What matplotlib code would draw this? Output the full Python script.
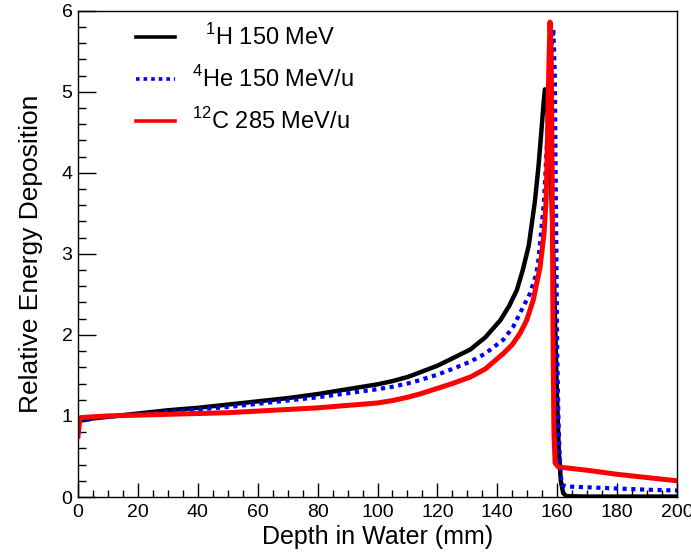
import numpy as np
import matplotlib
matplotlib.use("Agg")
import matplotlib.pyplot as plt
from matplotlib.ticker import MultipleLocator

plt.rcParams['font.family'] = ['Liberation Sans', 'DejaVu Sans']
plt.rcParams['mathtext.fontset'] = 'custom'
plt.rcParams['mathtext.rm'] = 'Liberation Sans'

# depth (mm) / relative dose
x_h = [0, 0.5, 5, 10, 20, 30, 40, 50, 60, 70, 80, 90, 100, 105, 110, 114, 120, 125, 131,
       136, 141, 144, 146.5, 148.5, 150.5, 152.6, 153.8, 154.8, 155.5, 155.9,
       156.3, 157, 158, 159, 159.8, 160.5, 161.2, 162, 163, 170, 180, 190, 200]
y_h = [0.92, 0.94, 0.97, 0.99, 1.03, 1.07, 1.10, 1.14, 1.18, 1.22, 1.27, 1.33, 1.39,
       1.43, 1.48, 1.535, 1.62, 1.71, 1.82, 1.97, 2.18, 2.36, 2.55, 2.80, 3.10, 3.66, 4.10,
       4.55, 4.88, 5.03, 5.00, 4.60, 3.80, 2.60, 1.40, 0.60, 0.20, 0.05, 0.01,
       0.005, 0.005, 0.005, 0.005]

x_he = [0, 0.5, 5, 10, 20, 30, 40, 50, 60, 70, 80, 90, 100, 105, 110, 114, 120, 125, 131,
        136, 142, 145.3, 148, 150.9, 153, 153.7, 154.8, 155.6, 156.5, 157.3,
        158, 158.7, 159.2, 159.6, 160, 160.4, 160.9, 161.5, 163, 170, 180, 190, 200]
y_he = [0.90, 0.93, 0.97, 0.99, 1.02, 1.05, 1.08, 1.11, 1.15, 1.19, 1.23, 1.28, 1.33,
        1.36, 1.40, 1.44, 1.51, 1.58, 1.67, 1.77, 1.94, 2.10, 2.30, 2.51, 2.75, 2.92, 3.33,
        3.66, 4.30, 5.00, 5.50, 5.78, 5.20, 3.50, 1.80, 1.00, 0.40, 0.15, 0.13, 0.12,
        0.105, 0.09, 0.08]

x_c = [0, 0.3, 0.6, 1, 5, 10, 20, 30, 40, 50, 60, 70, 80, 90, 100, 105, 110, 114, 120, 125,
       131, 136, 142, 145, 147.6, 149.8, 152, 154.3, 155.6, 156.3, 156.8, 157.2,
       157.6, 158, 158.3, 158.6, 158.9, 159.3, 160.4, 170, 180, 190, 200]
y_c = [0.75, 0.85, 0.96, 0.98, 0.99, 1.00, 1.01, 1.02, 1.03, 1.04, 1.06, 1.08, 1.10,
       1.13, 1.16, 1.19, 1.23, 1.27, 1.34, 1.40, 1.48, 1.58, 1.77, 1.88, 2.02, 2.18, 2.43,
       2.84, 3.25, 3.66, 4.50, 5.30, 5.86, 5.50, 4.00, 2.00, 0.80, 0.42, 0.37, 0.33,
       0.28, 0.24, 0.20]

labels = [r'  $^{1}$H 150 MeV', r'$^{4}$He 150 MeV/u', r'$^{12}$C 285 MeV/u']

fig = plt.figure(figsize=(6.91, 5.59), dpi=100)
ax = fig.add_axes([78 / 691, 62 / 559, 599 / 691, 486.3 / 559])

ax.plot(x_h, y_h, color='black', lw=3.2, label=labels[0])
ax.plot(x_he, y_he, color='#0000ff', lw=3.0, ls=(0, (1, 1.1)),
        dash_capstyle='butt', label=labels[1])
ax.plot(x_c, y_c, color='#ff0000', lw=3.6, label=labels[2])

ax.set_xlim(0, 200)
ax.set_ylim(0, 6)
ax.xaxis.set_major_locator(MultipleLocator(20))
ax.xaxis.set_minor_locator(MultipleLocator(5))
ax.yaxis.set_major_locator(MultipleLocator(1))
ax.yaxis.set_minor_locator(MultipleLocator(0.2))
ax.tick_params(axis='x', which='major', direction='in', length=10, width=1, labelsize=14, pad=5)
ax.tick_params(axis='x', which='minor', direction='in', length=5, width=1)
ax.tick_params(axis='y', which='major', direction='in', length=13, width=1, labelsize=14, pad=4)
ax.tick_params(axis='y', which='minor', direction='in', length=6, width=1)
for s in ax.spines.values():
    s.set_linewidth(1.0)

ax.set_xlabel('Depth in Water (mm)', fontsize=18, labelpad=3)
ax.set_ylabel('Relative Energy Deposition', fontsize=19, labelpad=13)

leg = ax.legend(loc='upper left', bbox_to_anchor=(0.0768, 0.997), frameon=False,
                fontsize=17, handlelength=1.65, handletextpad=0.72,
                labelspacing=0.68, borderpad=0)
for h in leg.get_lines():
    h.set_linewidth(2.6)

fig.savefig('out.png', dpi=100)
